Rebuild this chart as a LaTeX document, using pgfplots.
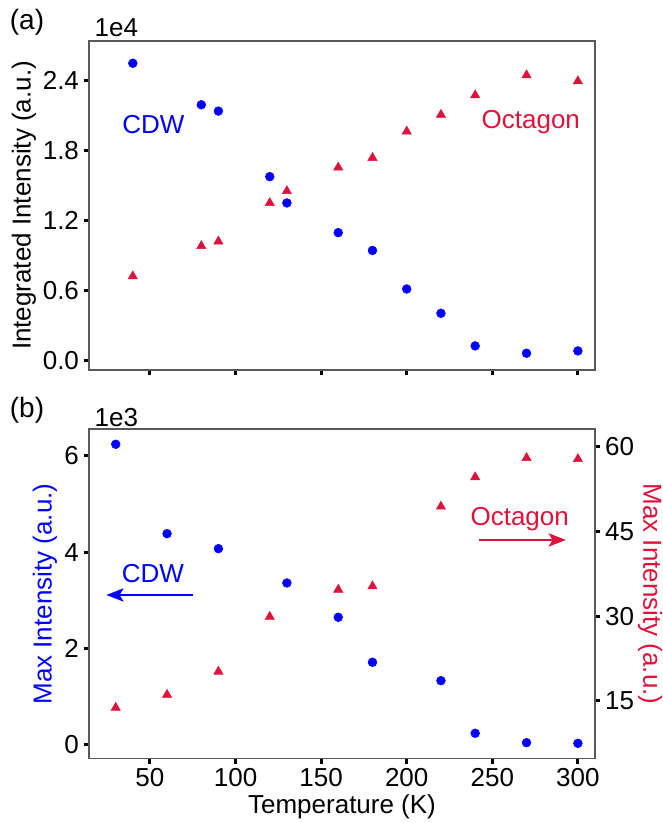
\documentclass[border=0pt]{standalone}
\usepackage{fontspec}
\setmainfont{Liberation Sans}
\usepackage{pgfplots}
\pgfplotsset{compat=1.18}
\usetikzlibrary{arrows.meta}
\definecolor{cdw}{HTML}{0000FF}
\definecolor{oct}{HTML}{DC143C}
\pgfplotsset{
  base/.style={
    scale only axis, width=379.5pt,
    xmin=14.4, xmax=310,
    xtick={50,100,150,200,250,300},
    axis line style={black!65, line width=1.1pt},
    tick align=outside,
    major tick length=4pt,
    major tick style={black, line width=2.2pt},
    tick label style={font=\fontsize{19.5}{22}\selectfont},
    /pgf/number format/assume math mode=true,
  },
}
\newcommand{\bigf}{\fontsize{19.5}{22}\selectfont}
\begin{document}
\begin{tikzpicture}
\useasboundingbox (0,0) rectangle (496.5pt,-617.25pt);
% ---------- panel (a)
\begin{axis}[base, at={(66.75pt,-277.5pt)}, anchor=south west, height=246.75pt,
  ymin=-0.085, ymax=2.741,
  ytick={0,0.6,1.2,1.8,2.4}, yticklabels={0.0,0.6,1.2,1.8,2.4},
  xticklabels={}, xtick pos=bottom, ytick pos=left]
\addplot[only marks, mark=*, mark size=3.3pt, cdw, mark options={draw=cdw, fill=cdw}] coordinates {
 (40,2.55) (80,2.193) (90,2.139) (120,1.576) (130,1.350) (160,1.095)
 (180,0.942) (200,0.611) (220,0.402) (240,0.122) (270,0.059) (300,0.079)};
\addplot[only marks, mark=triangle*, mark size=4pt, oct, mark options={draw=oct, fill=oct}] coordinates {
 (40,0.72) (80,0.98) (90,1.02) (120,1.35) (130,1.452) (160,1.655)
 (180,1.737) (200,1.964) (220,2.108) (240,2.275) (270,2.447) (300,2.396)};
\node[cdw, font=\bigf, anchor=base] at (axis cs:52,1.944) {CDW};
\node[oct, font=\bigf, anchor=base] at (axis cs:272.5,1.986) {Octagon};
\end{axis}
% ---------- panel (b), left axis
\begin{axis}[base, at={(66.75pt,-568.7pt)}, anchor=south west, height=247pt,
  ymin=-0.291, ymax=6.562,
  ytick={0,2,4,6},
  xtick pos=bottom, ytick pos=left]
\addplot[only marks, mark=*, mark size=3.3pt, cdw, mark options={draw=cdw, fill=cdw}] coordinates {
 (30,6.243) (60,4.383) (90,4.071) (130,3.357) (160,2.643) (180,1.707)
 (220,1.324) (240,0.229) (270,0.033) (300,0.02)};
\node[cdw, font=\bigf, anchor=base] at (axis cs:51.75,3.357) {CDW};
\draw[cdw, line width=1.1pt, -{Stealth[length=13pt, width=10pt, inset=3pt]}] (axis cs:75,3.107) -- (axis cs:24.5,3.107);
\node[oct, font=\bigf, anchor=base] at (axis cs:266,4.56) {Octagon};
\draw[oct, line width=1.1pt, -{Stealth[length=13pt, width=10pt, inset=3pt]}] (axis cs:242.3,4.252) -- (axis cs:293,4.252);
\end{axis}
% ---------- panel (b), right axis
\begin{axis}[base, at={(66.75pt,-568.7pt)}, anchor=south west, height=247pt,
  ymin=4.86, ymax=63.13,
  ytick={15,30,45,60},
  axis x line=none, axis y line*=right]
\addplot[only marks, mark=triangle*, mark size=4pt, oct, mark options={draw=oct, fill=oct}] coordinates {
 (30,13.8) (60,16.1) (90,20.2) (120,29.9) (160,34.7) (180,35.3)
 (220,49.4) (240,54.6) (270,58.0) (300,57.8)};
\end{axis}
% ---------- labels
\node[font=\fontsize{21}{24}\selectfont] at (20.25pt,-16.5pt) {(a)};
\node[font=\fontsize{21}{24}\selectfont] at (20.25pt,-307.5pt) {(b)};
\node[font=\bigf, anchor=base west] at (67.5pt,-27.75pt) {1e4};
\node[font=\bigf, anchor=base west] at (67.5pt,-319.5pt) {1e3};
\node[font=\bigf, rotate=90] at (18pt,-154.1pt) {Integrated Intensity (a.u.)};
\node[font=\bigf, rotate=90, cdw] at (33.75pt,-445.5pt) {Max Intensity (a.u.)};
\node[font=\bigf, rotate=-90, oct] at (487.5pt,-445.5pt) {Max Intensity (a.u.)};
\node[font=\bigf, anchor=base] at (256.5pt,-609.75pt) {Temperature (K)};
\end{tikzpicture}
\end{document}
